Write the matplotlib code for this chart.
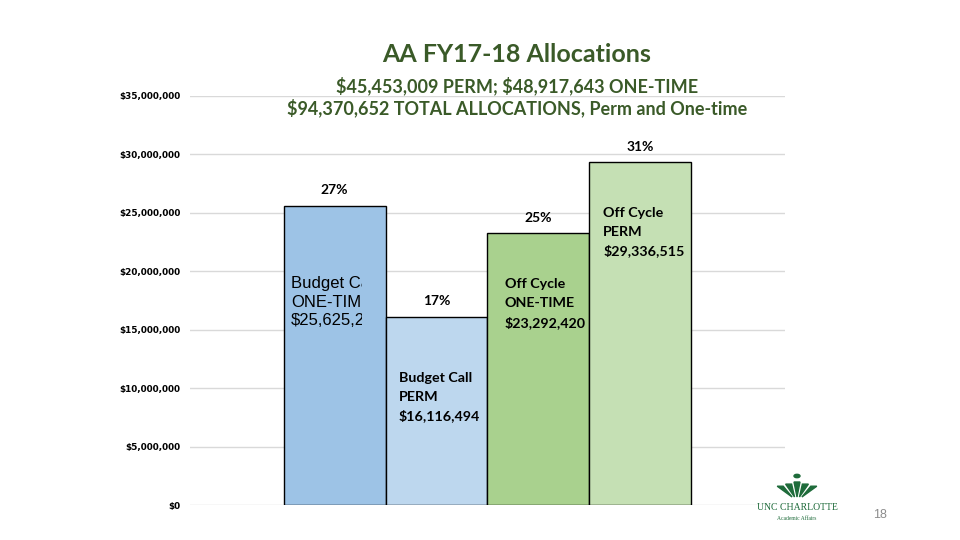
import matplotlib.pyplot as plt
from matplotlib.patches import Rectangle, Polygon, Circle

plt.rcParams['text.parse_math'] = False

categories = ['Budget Call ONE-TIME', 'Budget Call PERM', 'Off Cycle ONE-TIME', 'Off Cycle PERM']
values = [25625223, 16116494, 23292420, 29336515]
shares = ['27%', '17%', '25%', '31%']
bar_labels = ['Budget Call\nONE-TIME\n$25,625,223',
              'Budget Call\nPERM\n$16,116,494',
              'Off Cycle\nONE-TIME\n$23,292,420',
              'Off Cycle\nPERM\n$29,336,515']
colors = ['#9DC3E6', '#BDD7EE', '#A9D18E', '#C5E0B4']
yticks = [0, 5e6, 10e6, 15e6, 20e6, 25e6, 30e6, 35e6]

green = '#3A5A28'
logo_green = '#1E6B3A'
fig = plt.figure(figsize=(9.6, 5.4), dpi=100)
ax = fig.add_axes([190/960, 35/540, 595/960, 409/540])

x = range(len(values))
bars = ax.bar(x, values, width=1.0, color=colors, edgecolor='black', linewidth=1.0, zorder=3)

ax.set_ylim(0, 35e6)
ax.set_xlim(-1.42, 4.42)
ax.set_yticks(yticks)
ax.set_yticklabels(['${:,.0f}'.format(v) for v in yticks],
                   fontfamily='DejaVu Sans', fontweight='bold', fontsize=6.4)
ax.tick_params(axis='y', length=0, pad=7)
ax.set_xticks([])
ax.grid(axis='y', color='#D9D9D9', linewidth=1.0, zorder=0)
for s in ax.spines.values():
    s.set_visible(False)

# percent labels above bars
for b, s in zip(bars, shares):
    ax.annotate(s, (b.get_x() + b.get_width()/2, b.get_height()), xytext=(0, 11),
                textcoords='offset points', ha='center', va='center',
                fontfamily='Lato', fontweight='bold', fontsize=10, zorder=5)

# first label in Arial, clipped by its text box
t = ax.text(-0.43, 19.6e6, bar_labels[0], ha='left', va='top', fontfamily='Liberation Sans',
            fontsize=12, linespacing=1.3, zorder=5)
t.set_clip_on(True)
t.set_clip_box(ax.transData.transform_bbox(
    Rectangle((-0.5, 0), 0.765, 35e6).get_bbox()))

label_pos = [(0.627, 11.38e6), (1.667, 19.4e6), (2.637, 25.5e6)]
for (lx, ly), lab in zip(label_pos, bar_labels[1:]):
    ax.text(lx, ly, lab, ha='left', va='top', fontfamily='Lato', fontweight='bold',
            fontsize=10.3, linespacing=1.65, zorder=5)

fig.text(517/960, 1 - 55/540, 'AA FY17-18 Allocations', ha='center', va='center',
         fontfamily='Lato', fontweight='bold', fontsize=18, color=green)
fig.text(517/960, 1 - 86/540, '$45,453,009 PERM; $48,917,643 ONE-TIME', ha='center', va='center',
         fontfamily='Lato', fontweight='bold', fontsize=13, color=green)
fig.text(517/960, 1 - 108/540, '$94,370,652 TOTAL ALLOCATIONS, Perm and One-time', ha='center',
         va='center', fontfamily='Lato', fontweight='bold', fontsize=13, color=green)

# logo and page number
fig.text(797/960, 1 - 508/540, 'UNC CHARLOTTE', ha='center', va='center',
         fontfamily='Liberation Serif', fontsize=7, color=logo_green)
fig.text(797/960, 1 - 518/540, 'Academic Affairs', ha='center', va='center',
         fontfamily='Liberation Serif', fontsize=4, color=logo_green)
W, H = 960, 540
fig.add_artist(Circle((797/W, 1 - 476/H), 3/W, transform=fig.transFigure, color=logo_green))
for dx in (-14, -7, 0, 7, 14):
    tip_x = 797 + dx
    poly = [((797 + dx*0.35)/W, 1 - 497/H), ((tip_x - 3 + dx*0.2)/W, 1 - (482 + abs(dx)*0.3)/H),
            ((tip_x + 3 + dx*0.2)/W, 1 - (482 + abs(dx)*0.3)/H)]
    fig.add_artist(Polygon(poly, closed=True, transform=fig.transFigure, color=logo_green))
fig.text(880/960, 1 - 515/540, '18', ha='center', va='center',
         fontfamily='Liberation Sans', fontsize=9, color='#8C8C8C')

fig.savefig('out.png', dpi=100)
